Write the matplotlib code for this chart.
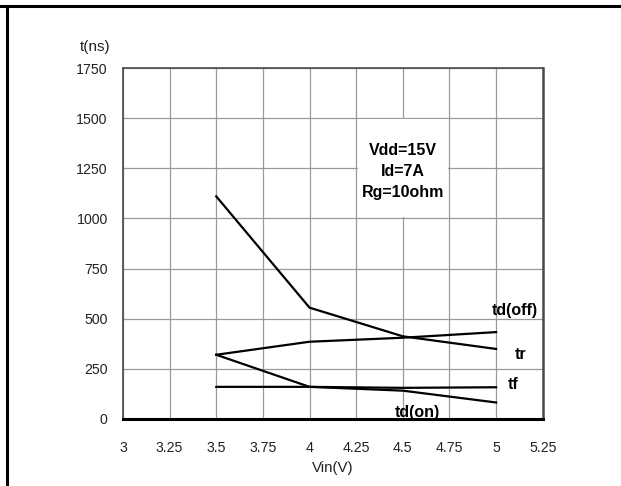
import matplotlib
matplotlib.use('Agg')
import matplotlib.pyplot as plt
from matplotlib.lines import Line2D
from matplotlib.patches import Rectangle

# switching times vs Vin
vin = [3.5, 4.0, 4.5, 5.0]
t_doff = [320, 385, 405, 433]
t_r = [1110, 555, 412, 349]
t_f = [160, 160, 155, 158]
t_don = [320, 160, 141, 82]

curve_names = ["td(off)", "tr", "tf", "td(on)"]
x_ticks = [3, 3.25, 3.5, 3.75, 4, 4.25, 4.5, 4.75, 5, 5.25]
y_ticks = [0, 250, 500, 750, 1000, 1250, 1500, 1750]
cond_lines = ["Vdd=15V", "Id=7A", "Rg=10ohm"]

plt.rcParams['font.family'] = ['Liberation Sans', 'DejaVu Sans']

fig = plt.figure(figsize=(6.21, 4.86), dpi=100)
ax = fig.add_axes([0.198, 0.138, 0.676, 0.722])

for ys in (t_doff, t_r, t_f, t_don):
    ax.plot(vin, ys, color='black', lw=1.6, zorder=3)

ax.set_xlim(3, 5.25)
ax.set_ylim(0, 1750)
ax.set_xticks(x_ticks)
ax.set_xticklabels([f"{v:g}" for v in x_ticks])
ax.set_yticks(y_ticks)
ax.set_yticklabels([str(v) for v in y_ticks])
ax.tick_params(length=0, labelsize=10.2, labelcolor='#222222')
ax.tick_params(axis='y', pad=11)
ax.tick_params(axis='x', pad=16)
ax.grid(True, color='#9a9a9a', lw=0.9)
ax.set_axisbelow(True)

for side in ('top', 'right', 'left'):
    ax.spines[side].set_color('#4a4a4a')
    ax.spines[side].set_linewidth(1.2)
ax.spines['right'].set_linewidth(1.8)
ax.spines['bottom'].set_color('black')
ax.spines['bottom'].set_linewidth(2.2)

# white patch behind the test conditions
ax.add_patch(Rectangle((4.26, 1005), 0.48, 490, facecolor='white',
                       edgecolor='none', zorder=1))
for i, s in enumerate(cond_lines):
    ax.text(4.5, 1337 - i * 104, s, ha='center', va='center',
            fontsize=11.5, fontweight='bold', zorder=4)

# curve labels
label_pos = [(5.10, 543), (5.13, 319), (5.09, 174), (4.58, 30)]
for name, (lx, ly) in zip(curve_names, label_pos):
    ax.text(lx, ly, name, ha='center', va='center', fontsize=11.5,
            fontweight='bold', zorder=4)

ax.set_xlabel("Vin(V)", fontsize=10.8, color='#222222', labelpad=4)
fig.text(110 / 621, 1 - 47 / 486, "t(ns)", ha='right', va='center',
         fontsize=11, color='#222222')

# outer frame (top and left edges of the datasheet table cell)
fig.add_artist(Line2D([0, 1], [1 - 6.5 / 486] * 2, color='black', lw=2.2,
                      transform=fig.transFigure))
fig.add_artist(Line2D([6.5 / 621] * 2, [0, 1 - 6.5 / 486], color='black',
                      lw=2.2, transform=fig.transFigure))

fig.savefig('out.png', dpi=100)
